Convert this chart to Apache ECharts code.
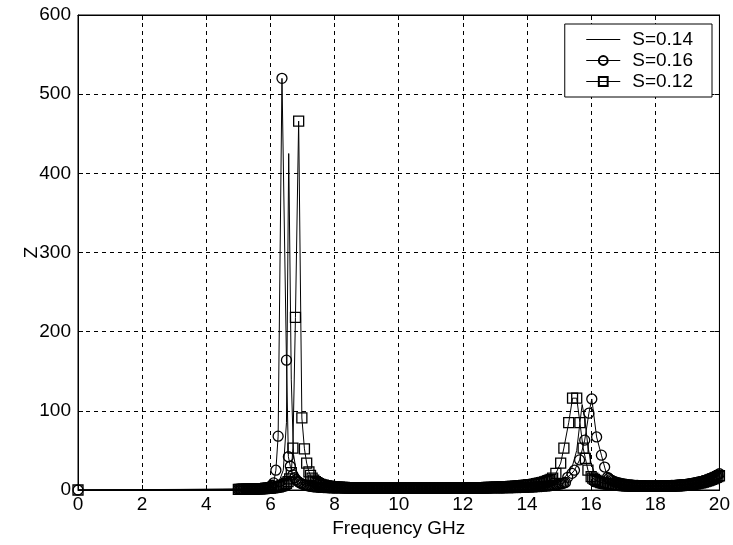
<!DOCTYPE html>
<html>
<head>
<meta charset="utf-8">
<script src="https://cdn.jsdelivr.net/npm/echarts@6/dist/echarts.min.js"></script>
<style>
html,body{margin:0;padding:0;background:#fff;}
#chart{width:733px;height:545px;}
</style>
</head>
<body>
<div id="chart"></div>
<script>
// Axis ticks
var xTicks = [0, 2, 4, 6, 8, 10, 12, 14, 16, 18, 20];
var yTicks = [0, 100, 200, 300, 400, 500, 600];
var seriesNames = ['S=0.14', 'S=0.16', 'S=0.12'];

// S=0.14 (line only)
var f14 = [0, 2.5, 3.0, 3.5, 4.0, 4.5, 5.0, 5.5, 6.0, 6.2, 6.3, 6.4, 6.5, 6.57, 6.65, 6.72, 6.8, 6.9, 7.0, 7.2, 7.5, 8.0, 9.0, 10.0, 11.0, 12.0, 13.0, 14.0, 14.5, 15.0, 15.2, 15.4, 15.55, 15.65, 15.72, 15.8, 15.9, 16.0, 16.1, 16.3, 16.5, 17.0, 17.5, 18.0, 18.5, 19.0, 19.5, 20.0];
var z14 = [0, 0.6, 0.7, 0.8, 0.9, 1.0, 1.2, 1.6, 3.5, 8, 14, 25, 85, 425, 140, 45, 25, 15, 10, 6, 4, 3, 2.3, 2.1, 2.1, 2.3, 2.8, 4.5, 7, 12, 17, 28, 50, 85, 108, 90, 55, 33, 22, 13, 9, 6.5, 5.2, 4.8, 5.5, 7.5, 11, 19];

// Shared sampling frequencies of the marker series (flat parts)
var gridA = [5.0, 5.05, 5.1, 5.15, 5.2, 5.25, 5.3, 5.35, 5.4, 5.45, 5.5, 5.55, 5.6, 5.65, 5.7, 5.75, 5.8, 5.85, 5.9, 5.95];
var gridB = [7.4, 7.45, 7.5, 7.55, 7.6, 7.65, 7.7, 7.75, 7.8, 7.85, 7.9, 7.95,
  8.0, 8.05, 8.1, 8.15, 8.2, 8.25, 8.3, 8.35, 8.4, 8.45, 8.5, 8.55, 8.6, 8.65, 8.7, 8.75, 8.8, 8.85, 8.9, 8.95,
  9.0, 9.05, 9.1, 9.15, 9.2, 9.25, 9.3, 9.35, 9.4, 9.45, 9.5, 9.55, 9.6, 9.65, 9.7, 9.75, 9.8, 9.85, 9.9, 9.95,
  10.0, 10.05, 10.1, 10.15, 10.2, 10.25, 10.3, 10.35, 10.4, 10.45, 10.5, 10.55, 10.6, 10.65, 10.7, 10.75, 10.8, 10.85, 10.9, 10.95,
  11.0, 11.05, 11.1, 11.15, 11.2, 11.25, 11.3, 11.35, 11.4, 11.45, 11.5, 11.55, 11.6, 11.65, 11.7, 11.75, 11.8, 11.85, 11.9, 11.95,
  12.0, 12.05, 12.1, 12.15, 12.2, 12.25, 12.3, 12.35, 12.4, 12.45, 12.5, 12.55, 12.6, 12.65, 12.7, 12.75, 12.8, 12.85, 12.9, 12.95,
  13.0, 13.05, 13.1, 13.15, 13.2, 13.25, 13.3, 13.35, 13.4, 13.45, 13.5, 13.55, 13.6, 13.65, 13.7, 13.75, 13.8, 13.85, 13.9, 13.95,
  14.0, 14.05, 14.1, 14.15, 14.2, 14.25, 14.3, 14.35, 14.4, 14.45, 14.5, 14.55, 14.6, 14.65, 14.7];
var gridC = [16.6, 16.65, 16.7, 16.75, 16.8, 16.85, 16.9, 16.95,
  17.0, 17.05, 17.1, 17.15, 17.2, 17.25, 17.3, 17.35, 17.4, 17.45, 17.5, 17.55, 17.6, 17.65, 17.7, 17.75, 17.8, 17.85, 17.9, 17.95,
  18.0, 18.05, 18.1, 18.15, 18.2, 18.25, 18.3, 18.35, 18.4, 18.45, 18.5, 18.55, 18.6, 18.65, 18.7, 18.75, 18.8, 18.85, 18.9, 18.95,
  19.0, 19.05, 19.1, 19.15, 19.2, 19.25, 19.3, 19.35, 19.4, 19.45, 19.5, 19.55, 19.6, 19.65, 19.7, 19.75, 19.8, 19.85, 19.9, 19.95,
  20.0];

// S=0.16 (circles)
var z16A = [1.0, 1.0, 1.0, 1.0, 1.1, 1.1, 1.2, 1.2, 1.3, 1.4, 1.5, 1.6, 1.7, 1.8, 2.0, 2.2, 2.4, 2.7, 3.0, 3.6];
var f16P1 = [6.0, 6.05, 6.1, 6.17, 6.24, 6.36, 6.5, 6.56, 6.62, 6.7, 6.75, 6.8, 6.85, 6.9, 6.95, 7.0, 7.05, 7.1, 7.15, 7.2, 7.25, 7.3, 7.35];
var z16P1 = [4.5, 6.0, 9, 25, 68, 520, 164, 42, 30, 19, 15.5, 13, 11, 9.5, 8.4, 7.5, 6.7, 6.0, 5.5, 5.0, 4.7, 4.4, 4.1];
var z16B = [3.9, 3.7, 3.5, 3.35, 3.2, 3.1, 3.0, 2.9, 2.8, 2.7, 2.6, 2.55,
  2.5, 2.45, 2.4, 2.4, 2.4, 2.35, 2.3, 2.3, 2.3, 2.3, 2.3, 2.25, 2.2, 2.2, 2.2, 2.2, 2.2, 2.15, 2.1, 2.1,
  2.1, 2.1, 2.1, 2.1, 2.1, 2.1, 2.05, 2.0, 2.0, 2.0, 2.0, 2.0, 2.0, 2.0, 2.0, 2.0, 2.0, 2.0, 2.0, 2.0,
  2.0, 2.0, 2.0, 2.0, 2.0, 2.0, 2.0, 2.0, 2.0, 2.0, 2.0, 2.0, 2.0, 2.0, 2.0, 2.0, 2.0, 2.0, 2.0, 2.0,
  2.0, 2.0, 2.0, 2.0, 2.0, 2.0, 2.0, 2.0, 2.0, 2.0, 2.1, 2.1, 2.1, 2.1, 2.1, 2.1, 2.1, 2.1, 2.1, 2.1,
  2.1, 2.1, 2.1, 2.1, 2.2, 2.2, 2.2, 2.2, 2.2, 2.2, 2.2, 2.2, 2.3, 2.3, 2.3, 2.3, 2.3, 2.3, 2.4, 2.4,
  2.4, 2.45, 2.5, 2.5, 2.5, 2.55, 2.6, 2.65, 2.7, 2.75, 2.8, 2.85, 2.9, 2.95, 3.0, 3.05, 3.1, 3.2, 3.3, 3.35,
  3.4, 3.5, 3.6, 3.7, 3.8, 3.9, 4.0, 4.15, 4.3, 4.45, 4.6, 4.8, 5.0, 5.2, 5.4];
var f16P2 = [14.75, 14.8, 14.85, 14.9, 14.95, 15.0, 15.05, 15.1, 15.15, 15.2, 15.27, 15.4, 15.48, 15.64, 15.8, 15.93, 16.02, 16.17, 16.32, 16.42, 16.51, 16.55];
var z16P2 = [5.65, 5.9, 6.2, 6.5, 6.85, 7.2, 7.7, 8.2, 8.8, 9.5, 16, 21, 25, 38, 63, 97, 115, 67, 44, 29, 16, 14.5];
var z16C = [13, 12, 11, 10.2, 9.5, 9.0, 8.5, 8.0,
  7.6, 7.3, 7.0, 6.75, 6.5, 6.3, 6.1, 5.95, 5.8, 5.7, 5.6, 5.5, 5.4, 5.35, 5.3, 5.25, 5.2, 5.2, 5.2, 5.2,
  5.2, 5.2, 5.2, 5.25, 5.3, 5.35, 5.4, 5.45, 5.5, 5.6, 5.7, 5.8, 5.9, 6.05, 6.2, 6.35, 6.5, 6.7, 6.9, 7.15,
  7.4, 7.7, 8.0, 8.35, 8.7, 9.1, 9.5, 9.95, 10.4, 10.9, 11.5, 12.1, 12.8, 13.5, 14.3, 15.1, 16.0, 17.0, 18.0, 19.2,
  20.5];

// S=0.12 (squares)
var z12A = [0.8, 0.85, 0.9, 0.9, 0.9, 0.95, 1.0, 1.05, 1.1, 1.15, 1.2, 1.3, 1.4, 1.5, 1.6, 1.7, 1.8, 1.95, 2.1, 2.3];
var f12P1 = [6.0, 6.05, 6.1, 6.15, 6.2, 6.25, 6.3, 6.35, 6.4, 6.45, 6.5, 6.55, 6.6, 6.65, 6.7, 6.78, 6.88, 6.98, 7.06, 7.13, 7.2, 7.25, 7.3, 7.35];
var z12P1 = [2.5, 2.7, 3.0, 3.3, 3.7, 4.1, 4.6, 5.2, 6.0, 7.0, 8.5, 10.5, 14, 22, 53, 218, 466, 91, 52, 34, 23, 18.5, 15, 12.5];
var z12B = [10.5, 9.2, 8.0, 7.2, 6.5, 6.0, 5.5, 5.1, 4.8, 4.5, 4.3, 4.1,
  3.9, 3.75, 3.6, 3.5, 3.4, 3.3, 3.2, 3.1, 3.0, 2.95, 2.9, 2.85, 2.8, 2.75, 2.7, 2.65, 2.6, 2.55, 2.5, 2.5,
  2.5, 2.45, 2.4, 2.4, 2.4, 2.35, 2.3, 2.3, 2.3, 2.3, 2.3, 2.25, 2.2, 2.2, 2.2, 2.2, 2.2, 2.2, 2.2, 2.2,
  2.2, 2.2, 2.2, 2.2, 2.2, 2.2, 2.2, 2.2, 2.2, 2.2, 2.2, 2.2, 2.2, 2.2, 2.2, 2.2, 2.3, 2.3, 2.3, 2.3,
  2.3, 2.3, 2.3, 2.3, 2.3, 2.35, 2.4, 2.4, 2.4, 2.4, 2.4, 2.45, 2.5, 2.5, 2.5, 2.5, 2.5, 2.55, 2.6, 2.6,
  2.6, 2.65, 2.7, 2.7, 2.7, 2.75, 2.8, 2.85, 2.9, 2.95, 3.0, 3.0, 3.0, 3.05, 3.1, 3.15, 3.2, 3.25, 3.3, 3.4,
  3.5, 3.55, 3.6, 3.7, 3.8, 3.9, 4.0, 4.1, 4.2, 4.3, 4.4, 4.55, 4.7, 4.85, 5.0, 5.15, 5.3, 5.5, 5.7, 5.9,
  6.1, 6.35, 6.6, 6.9, 7.2, 7.5, 7.9, 8.3, 8.7, 9.2, 9.7, 10.3, 11, 11.7, 12.5];
var f12P2 = [14.75, 14.8, 14.9, 15.05, 15.15, 15.3, 15.42, 15.55, 15.65, 15.75, 15.82, 15.9, 16.0, 16.05, 16.1, 16.15, 16.2, 16.25, 16.3, 16.35, 16.4, 16.45, 16.5, 16.55];
var z12P2 = [13.5, 15, 21, 34, 53, 85, 116, 116, 85, 53, 40, 25, 17, 15, 13.5, 12.2, 11, 10.2, 9.5, 9.0, 8.5, 8.1, 7.7, 7.4];
var z12C = [7.1, 6.85, 6.6, 6.4, 6.2, 6.05, 5.9, 5.75,
  5.6, 5.5, 5.4, 5.3, 5.2, 5.1, 5.0, 4.95, 4.9, 4.85, 4.8, 4.75, 4.7, 4.65, 4.6, 4.6, 4.6, 4.6, 4.6, 4.6,
  4.6, 4.6, 4.6, 4.6, 4.7, 4.75, 4.8, 4.85, 4.9, 4.95, 5.0, 5.1, 5.2, 5.3, 5.4, 5.55, 5.7, 5.85, 6.0, 6.2,
  6.4, 6.65, 6.9, 7.2, 7.5, 7.85, 8.2, 8.6, 9.0, 9.5, 10.0, 10.6, 11.2, 11.9, 12.6, 13.4, 14.2, 15.1, 16.0, 17.0,
  18.0];

function pairs(f, z) {
  var out = [];
  var n = Math.min(f.length, z.length);
  for (var i = 0; i < n; i++) out.push([f[i], z[i]]);
  return out;
}
function build(zA, fP1, zP1, zB, fP2, zP2, zC) {
  return [[0, 0]].concat(pairs(gridA, zA), pairs(fP1, zP1), pairs(gridB, zB), pairs(fP2, zP2), pairs(gridC, zC));
}

var FONT = 'Liberation Sans, Arial, sans-serif';
var chart = echarts.init(document.getElementById('chart'), null, {renderer: 'canvas'});

var markerStyle = {color: 'rgba(0,0,0,0)', borderColor: '#000', borderWidth: 1.3};

var option = {
  animation: false,
  backgroundColor: '#fff',
  grid: {left: 78, right: 13, top: 15, bottom: 55, show: true, borderColor: '#000', borderWidth: 1, backgroundColor: 'rgba(0,0,0,0)'},
  legend: {
    data: [
      {name: seriesNames[0], itemStyle: {opacity: 0, color: 'rgba(0,0,0,0)', borderWidth: 0}},
      {name: seriesNames[1]},
      {name: seriesNames[2]}
    ],
    orient: 'vertical',
    right: 21, top: 24,
    itemWidth: 34, itemHeight: 11, itemGap: 2,
    padding: [6, 19, 6, 21],
    borderColor: '#000', borderWidth: 1, backgroundColor: '#fff',
    lineStyle: {width: 1},
    textStyle: {color: '#000', fontSize: 19, fontFamily: FONT, padding: [0, 0, 0, 7]},
    selectedMode: false
  },
  xAxis: [{
    type: 'value', min: xTicks[0], max: xTicks[xTicks.length - 1], interval: 2,
    position: 'bottom',
    name: 'Frequency GHz', nameLocation: 'middle', nameGap: 24,
    nameTextStyle: {color: '#000', fontSize: 19, fontFamily: FONT},
    axisLine: {show: true, onZero: false, lineStyle: {color: '#000', width: 1}},
    axisTick: {show: true, inside: true, length: 5, lineStyle: {color: '#000'}},
    axisLabel: {color: '#000', fontSize: 19, fontFamily: FONT, margin: 5},
    splitLine: {show: true, lineStyle: {color: '#000', width: 1, type: [4, 4]}}
  }, {
    type: 'value', min: xTicks[0], max: xTicks[xTicks.length - 1], interval: 2,
    position: 'top',
    axisLine: {show: true, onZero: false, lineStyle: {color: '#000', width: 1}},
    axisTick: {show: true, inside: true, length: 5, lineStyle: {color: '#000'}},
    axisLabel: {show: false},
    splitLine: {show: false}
  }],
  yAxis: [{
    type: 'value', min: yTicks[0], max: yTicks[yTicks.length - 1], interval: 100,
    position: 'left',
    name: 'Z', nameLocation: 'middle', nameGap: 37, nameRotate: 90, nameMoveOverlap: false,
    nameTextStyle: {color: '#000', fontSize: 19, fontFamily: FONT},
    axisLine: {show: true, onZero: false, lineStyle: {color: '#000', width: 1}},
    axisTick: {show: true, inside: true, length: 5, lineStyle: {color: '#000'}},
    axisLabel: {color: '#000', fontSize: 19, fontFamily: FONT, margin: 7},
    splitLine: {show: true, lineStyle: {color: '#000', width: 1, type: [4, 4]}}
  }, {
    type: 'value', min: yTicks[0], max: yTicks[yTicks.length - 1], interval: 100,
    position: 'right',
    axisLine: {show: true, onZero: false, lineStyle: {color: '#000', width: 1}},
    axisTick: {show: true, inside: true, length: 5, lineStyle: {color: '#000'}},
    axisLabel: {show: false},
    splitLine: {show: false}
  }],
  series: [{
    name: seriesNames[0], type: 'line', xAxisIndex: 0, yAxisIndex: 0,
    data: pairs(f14, z14),
    symbol: 'none', showSymbol: false,
    lineStyle: {color: '#000', width: 1},
    itemStyle: {color: '#000'},
    emphasis: {disabled: true}, silent: true
  }, {
    name: seriesNames[1], type: 'line', xAxisIndex: 0, yAxisIndex: 0,
    data: build(z16A, f16P1, z16P1, z16B, f16P2, z16P2, z16C),
    symbol: 'circle', symbolSize: 10, showAllSymbol: true,
    lineStyle: {color: '#000', width: 1},
    itemStyle: markerStyle,
    emphasis: {disabled: true}, silent: true
  }, {
    name: seriesNames[2], type: 'line', xAxisIndex: 0, yAxisIndex: 0,
    data: build(z12A, f12P1, z12P1, z12B, f12P2, z12P2, z12C),
    symbol: 'rect', symbolSize: 10, showAllSymbol: true,
    lineStyle: {color: '#000', width: 1},
    itemStyle: markerStyle,
    emphasis: {disabled: true}, silent: true
  }]
};
chart.setOption(option);
</script>
</body>
</html>
